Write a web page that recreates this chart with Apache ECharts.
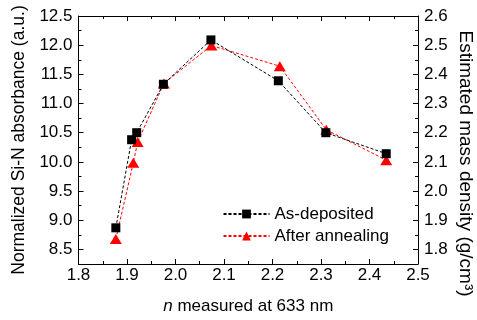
<!DOCTYPE html>
<html>
<head>
<meta charset="utf-8">
<script src="https://cdn.jsdelivr.net/npm/echarts@6/dist/echarts.min.js"></script>
<style>
  html, body { margin: 0; padding: 0; background: #fff; }
  #chart { width: 477px; height: 320px; }
</style>
</head>
<body>
<div id="chart"></div>
<script>
// refractive index n for each film, and the two measured quantities
const nDeposited = [1.877, 1.9095, 1.92, 1.975, 2.073, 2.212, 2.31, 2.4345];
const absorbance = [8.87, 10.38, 10.50, 11.33, 12.09, 11.39, 10.50, 10.14];
const nAnnealed = [1.877, 1.913, 1.922, 1.976, 2.074, 2.215, 2.311, 2.4345];
const density = [1.836, 2.097, 2.168, 2.369, 2.499, 2.428, 2.21, 2.106];

const seriesNames = ['As-deposited', 'After annealing'];
const leftMajor = [8.5, 9.0, 9.5, 10.0, 10.5, 11.0, 11.5, 12.0, 12.5];
const rightMajor = [1.8, 1.9, 2.0, 2.1, 2.2, 2.3, 2.4, 2.5, 2.6];

const font = 'Liberation Sans, Arial, Helvetica, sans-serif';
const black = '#000';

const chart = echarts.init(document.getElementById('chart'), null, { renderer: 'canvas' });

function pairs(xs, ys) {
  return xs.map((x, i) => [x, ys[i]]);
}

const lineAxis = { show: true, lineStyle: { color: black, width: 1 } };

function xAxisFor(position, showLabels) {
  return {
    type: 'value',
    position: position,
    min: 1.8,
    max: 2.5,
    interval: 0.1,
    axisLine: lineAxis,
    axisTick: { show: true, inside: true, length: 5, lineStyle: { color: black } },
    minorTick: { show: true, splitNumber: 2, length: 3, lineStyle: { color: black } },
    axisLabel: {
      show: showLabels,
      color: black,
      fontSize: 17,
      fontFamily: font,
      margin: 3,
      formatter: (v) => v.toFixed(1)
    },
    splitLine: { show: false },
    minorSplitLine: { show: false }
  };
}

function yAxisFor(position, min, max, step, majors, showMain) {
  return {
    type: 'value',
    position: position,
    min: min,
    max: max,
    interval: step,
    axisLine: showMain ? lineAxis : { show: false },
    axisTick: showMain
      ? { show: true, inside: true, length: 5, customValues: majors, lineStyle: { color: black } }
      : { show: true, inside: true, length: 3, lineStyle: { color: black } },
    axisLabel: showMain
      ? {
          show: true,
          customValues: majors,
          color: black,
          fontSize: 17,
          fontFamily: font,
          margin: 6,
          formatter: (v) => v.toFixed(1)
        }
      : { show: false },
    splitLine: { show: false }
  };
}

const xMain = xAxisFor('bottom', true);
xMain.name = '{i|n} measured at 633 nm';
xMain.nameLocation = 'middle';
xMain.nameGap = 34;
xMain.nameTextStyle = {
  color: black,
  fontSize: 17,
  fontFamily: font,
  rich: { i: { fontStyle: 'italic', fontSize: 17, fontFamily: font, color: black } }
};

const yLeft = yAxisFor('left', 8.25, 12.5, 0.25, leftMajor, true);
yLeft.name = 'Normalized Si-N absorbance (a.u.)';
yLeft.nameLocation = 'middle';
yLeft.nameGap = 46;
yLeft.nameTextStyle = { color: black, fontSize: 17.5, fontFamily: font };

const option = {
  animation: false,
  backgroundColor: '#fff',
  grid: { left: 78.5, right: 59, top: 16, bottom: 53, containLabel: false },
  xAxis: [xMain, xAxisFor('top', false)],
  yAxis: [
    yLeft,
    yAxisFor('right', 1.75, 2.6, 0.05, rightMajor, true),
    yAxisFor('left', 8.25, 12.5, 0.25, leftMajor, false),
    yAxisFor('right', 1.75, 2.6, 0.05, rightMajor, false)
  ],
  legend: {
    data: seriesNames,
    orient: 'vertical',
    left: 222.5,
    top: 205.5,
    padding: 0,
    itemWidth: 46,
    itemHeight: 11,
    itemGap: 5,
    textStyle: { color: black, fontSize: 17, fontFamily: font }
  },
  graphic: [
    {
      type: 'text',
      x: 465,
      y: 163.5,
      rotation: -Math.PI / 2,
      style: {
        text: 'Estimated mass density (g/cm³)',
        fill: black,
        fontSize: 19,
        fontFamily: font,
        align: 'center',
        verticalAlign: 'middle'
      }
    }
  ],
  series: [
    {
      name: seriesNames[0],
      type: 'line',
      xAxisIndex: 0,
      yAxisIndex: 0,
      data: pairs(nDeposited, absorbance),
      symbol: 'rect',
      symbolSize: 9,
      itemStyle: { color: black },
      lineStyle: { color: black, width: 1, type: [3, 2] },
      z: 3
    },
    {
      name: seriesNames[1],
      type: 'line',
      xAxisIndex: 0,
      yAxisIndex: 1,
      data: pairs(nAnnealed, density),
      symbol: 'triangle',
      symbolSize: [12, 10],
      itemStyle: { color: '#ff0000' },
      lineStyle: { color: '#ff0000', width: 1, type: [3, 2] },
      z: 2
    }
  ]
};

chart.setOption(option);
</script>
</body>
</html>
